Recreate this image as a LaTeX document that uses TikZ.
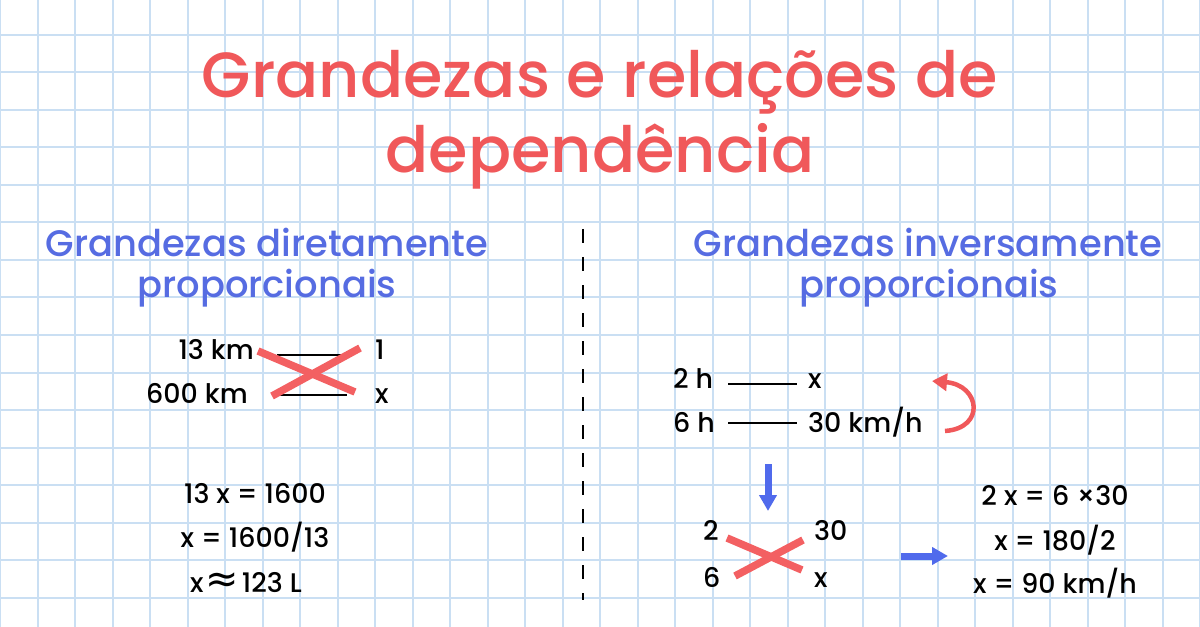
\documentclass[tikz,border=0pt]{standalone}
\usepackage{fontspec}
\setmainfont{Poppins Medium}
\newfontfamily\symfont{DejaVu Sans}
\usetikzlibrary{arrows.meta}
\definecolor{gridc}{RGB}{202,223,243}
\definecolor{coral}{RGB}{240,88,90}
\definecolor{bluet}{RGB}{86,108,226}
\definecolor{bluearrow}{RGB}{80,106,236}
\definecolor{xred}{RGB}{243,96,98}
\tikzset{
  gridline/.style={draw=gridc, line width=2bp},
  titletext/.style={text=coral, font=\fontsize{64}{70}\selectfont, anchor=base, inner sep=0},
  subtext/.style={text=bluet, font=\fontsize{37}{40}\selectfont, anchor=base, inner sep=0},
  bodytext/.style={text=black, font=\fontsize{27}{30}\selectfont, inner sep=0},
  thinline/.style={draw=black, line width=1.1bp},
  cross/.style={draw=xred, line width=7.5bp},
  bluearr/.style={draw=bluearrow, line width=7bp, -{Triangle[length=16bp,width=17bp]}},
  divider/.style={draw=black, line width=2bp, dash pattern=on 14bp off 14bp}
}
\begin{document}
\begin{tikzpicture}[x=1bp,y=-1bp]
\useasboundingbox (0,0) rectangle (1200,627);
\fill[white] (0,0) rectangle (1200,627);
\foreach \i in {0,...,32} \draw[gridline] (\i*37.5,0) -- (\i*37.5,627);
\foreach \j in {0,...,15} \draw[gridline] (0,35+\j*37.5) -- (1200,35+\j*37.5);

% title
\node[titletext] (t1) at (600,98) {Grandezas e relações de};
\node[titletext] (t2) at (600,173) {dependência};

% subtitles
\node[subtext] (s1) at (267,257) {Grandezas diretamente};
\node[subtext] (s2) at (267,298) {proporcionais};
\node[subtext] (s3) at (928,257) {Grandezas inversamente};
\node[subtext] (s4) at (929,298) {proporcionais};

% divider
\coordinate (d1) at (583,229);
\coordinate (d2) at (583,600);
\draw[divider] (d1) -- (d2);

% left proportion
\node[bodytext, anchor=base east] (a1) at (254,360) {13 km};
\node[bodytext, anchor=base east] (a2) at (248,403) {600 km};
\node[bodytext, anchor=base west] (b1) at (375,360) {1};
\node[bodytext, anchor=base west] (b2) at (375,403) {x};
\coordinate (la1) at (277,355); \coordinate (lb1) at (343,355);
\coordinate (la2) at (277,395); \coordinate (lb2) at (347,395);
\draw[thinline] (la1) -- (lb1);
\draw[thinline] (la2) -- (lb2);
\coordinate (xa1) at (258,351); \coordinate (xb1) at (355,392);
\coordinate (xa2) at (272,396); \coordinate (xb2) at (360,348);
\draw[cross] (xa1) -- (xb1);
\draw[cross] (xa2) -- (xb2);

% left equations
\node[bodytext, anchor=base] (e1) at (255,503) {13 x = 1600};
\node[bodytext, anchor=base] (e2) at (255,547) {x = 1600/13};
\node[bodytext, anchor=base] (e3) at (246,592) {x\hspace{2bp}{\symfont\fontsize{40}{40}\selectfont ≈}\hspace{3bp}123 L};

% right proportion
\node[bodytext, anchor=base west] (c1) at (673,388) {2 h};
\node[bodytext, anchor=base west] (c2) at (673,432) {6 h};
\node[bodytext, anchor=base west] (r1) at (808,388) {x};
\node[bodytext, anchor=base west] (r2) at (808,432) {30 km/h};
\coordinate (ra1) at (728,384); \coordinate (rb1) at (797,384);
\coordinate (ra2) at (728,423); \coordinate (rb2) at (797,423);
\draw[thinline] (ra1) -- (rb1);
\draw[thinline] (ra2) -- (rb2);

% curved red arrow
\coordinate (ca) at (945,431);
\coordinate (cb) at (932,381);
\draw[draw=coral, line width=4.5bp, -{Triangle[length=15bp,width=17bp]}]
  (ca) .. controls (986,428) and (980,385) .. (cb);

% down arrow
\coordinate (da) at (768,464);
\coordinate (db) at (768,511);
\draw[bluearr] (da) -- (db);

% right cross
\node[bodytext, anchor=base west] (m1) at (703,540) {2};
\node[bodytext, anchor=base west] (m2) at (703,587) {6};
\node[bodytext, anchor=base west] (n1) at (814,540) {30};
\node[bodytext, anchor=base west] (n2) at (814,587) {x};
\coordinate (ya1) at (727,538); \coordinate (yb1) at (802,570);
\coordinate (ya2) at (735,576); \coordinate (yb2) at (803,540);
\draw[cross] (ya1) -- (yb1);
\draw[cross] (ya2) -- (yb2);

% right arrow
\coordinate (ea) at (901,556);
\coordinate (eb) at (948,556);
\draw[bluearr] (ea) -- (eb);

% right equations
\node[bodytext, anchor=base] (f1) at (1055,505) {2 x = 6 ×30};
\node[bodytext, anchor=base] (f2) at (1055,550) {x = 180/2};
\node[bodytext, anchor=base] (f3) at (1055,593) {x = 90 km/h};
\end{tikzpicture}
\end{document}
